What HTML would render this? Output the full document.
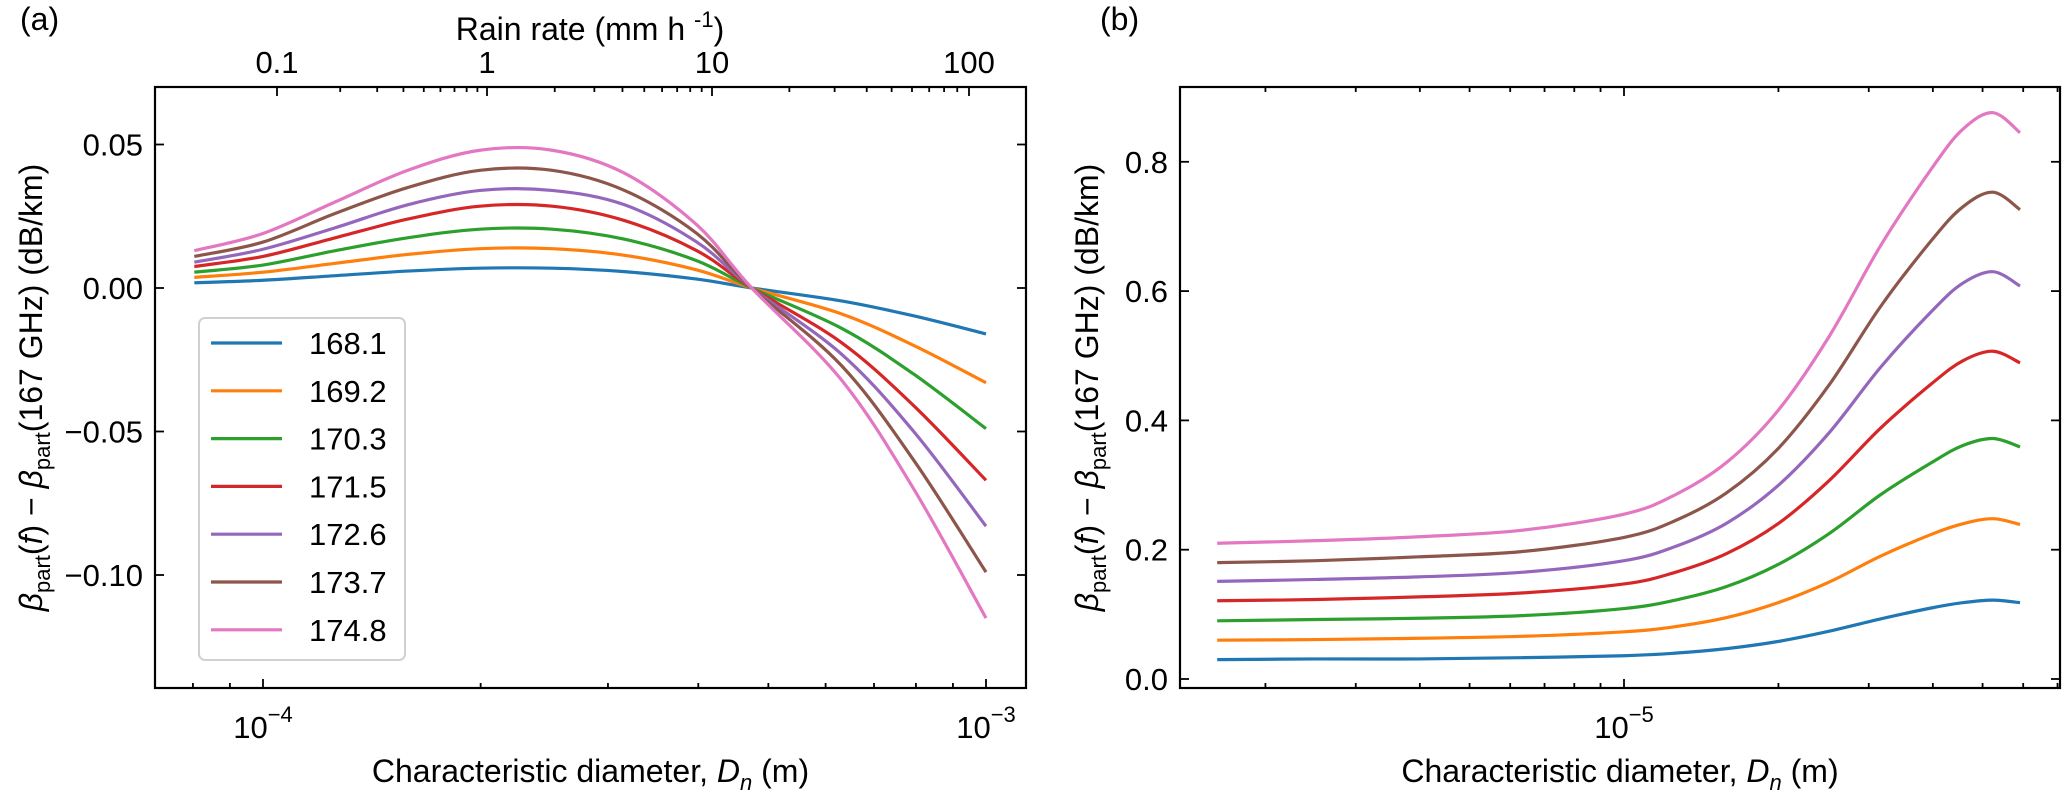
<!DOCTYPE html>
<html><head><meta charset="utf-8"><style>
html,body{margin:0;padding:0;background:#fff;}
svg{display:block;font-family:"Liberation Sans",Arial,sans-serif;}
</style></head><body>
<svg id="fig" width="2067" height="793" viewBox="0 0 2067 793" xmlns="http://www.w3.org/2000/svg"></svg>
<script>
// ---------- data ----------
const seriesLabels = ["168.1","169.2","170.3","171.5","172.6","173.7","174.8"];
const seriesColors = ["#1f77b4","#ff7f0e","#2ca02c","#d62728","#9467bd","#8c564b","#e377c2"];
// panel (a): log10 of characteristic diameter (m)
const aLogD = [-4.095,-4.0,-3.9,-3.8,-3.7,-3.6,-3.5,-3.4,-3.324,-3.2,-3.1,-3.0];
const aBlue   = [0.0018,0.0027,0.0043,0.0059,0.0069,0.0069,0.0057,0.0031,0,-0.0045,-0.0097,-0.016];
const aOrange = [0.0037,0.0055,0.0086,0.0117,0.0137,0.0137,0.0114,0.0063,0,-0.009,-0.020,-0.033];
const aGreen  = [0.0055,0.008,0.013,0.0175,0.0205,0.0205,0.017,0.0095,0,-0.014,-0.030,-0.049];
const aRed    = [0.0075,0.011,0.0175,0.024,0.0285,0.0285,0.0235,0.013,0,-0.019,-0.041,-0.067];
const aPurple = [0.009,0.0135,0.021,0.029,0.034,0.034,0.029,0.016,0,-0.023,-0.050,-0.083];
const aBrown  = [0.011,0.016,0.026,0.035,0.041,0.041,0.034,0.019,0,-0.027,-0.060,-0.099];
const aPink   = [0.013,0.019,0.030,0.041,0.048,0.048,0.040,0.022,0,-0.032,-0.070,-0.115];
const aYTicks = [0.05,0.00,-0.05,-0.10];
const aYTickLabels = ["0.05","0.00","\u22120.05","\u22120.10"];
const rainTicks = [0.1,1,10,100];
const rainTickLabels = ["0.1","1","10","100"];
// panel (b)
const bLogD = [-5.793,-5.6,-5.4,-5.2,-5.0,-4.9,-4.8,-4.7,-4.6,-4.5,-4.4,-4.34,-4.281,-4.228];
const bBlue   = [0.030,0.031,0.031,0.033,0.036,0.040,0.047,0.058,0.074,0.093,0.110,0.118,0.122,0.118];
const bOrange = [0.060,0.061,0.063,0.066,0.073,0.081,0.095,0.118,0.150,0.190,0.224,0.240,0.248,0.239];
const bGreen  = [0.090,0.092,0.094,0.098,0.109,0.122,0.143,0.177,0.225,0.285,0.335,0.361,0.372,0.359];
const bRed    = [0.121,0.123,0.127,0.133,0.147,0.165,0.194,0.240,0.307,0.388,0.457,0.492,0.507,0.489];
const bPurple = [0.151,0.154,0.158,0.165,0.183,0.205,0.241,0.299,0.381,0.482,0.569,0.612,0.630,0.608];
const bBrown  = [0.180,0.183,0.189,0.197,0.219,0.245,0.288,0.356,0.455,0.576,0.679,0.730,0.753,0.726];
const bPink   = [0.210,0.214,0.220,0.230,0.255,0.285,0.335,0.415,0.530,0.670,0.790,0.850,0.876,0.845];
const bYTicks = [0.0,0.2,0.4,0.6,0.8];
const bYTickLabels = ["0.0","0.2","0.4","0.6","0.8"];

const aSeries = [aBlue,aOrange,aGreen,aRed,aPurple,aBrown,aPink];
const bSeries = [bBlue,bOrange,bGreen,bRed,bPurple,bBrown,bPink];

// ---------- layout / axes ----------
const NS="http://www.w3.org/2000/svg";
const svg=document.getElementById('fig');
function el(tag,attrs,parent){const e=document.createElementNS(NS,tag);for(const k in attrs)e.setAttribute(k,attrs[k]);(parent||svg).appendChild(e);return e;}

const A={x0:155,x1:1026,y0:87,y1:688};
const B={x0:1180,x1:2060,y0:87,y1:688};
const axX=l=>263+(l+4)*723;
const axY=v=>288-v*2870;
const bxX=l=>1624+(l+5)*513;
const bxY=v=>679-v*646.5;
const rainAnchorPx=[277,487,712,969];
function rainX(r){const l=Math.log10(r)+1;const i=Math.min(2,Math.max(0,Math.floor(l)));return rainAnchorPx[i]+(l-i)*(rainAnchorPx[i+1]-rainAnchorPx[i]);}

function smoothPath(pts){
  let d=`M${pts[0][0].toFixed(2)},${pts[0][1].toFixed(2)}`;
  for(let i=0;i<pts.length-1;i++){
    const p0=pts[Math.max(0,i-1)],p1=pts[i],p2=pts[i+1],p3=pts[Math.min(pts.length-1,i+2)];
    const c1=[p1[0]+(p2[0]-p0[0])/6,p1[1]+(p2[1]-p0[1])/6];
    const c2=[p2[0]-(p3[0]-p1[0])/6,p2[1]-(p3[1]-p1[1])/6];
    d+=` C${c1[0].toFixed(2)},${c1[1].toFixed(2)} ${c2[0].toFixed(2)},${c2[1].toFixed(2)} ${p2[0].toFixed(2)},${p2[1].toFixed(2)}`;
  }
  return d;
}
function tick(g,x1,y1,x2,y2){return el('line',{x1,y1,x2,y2,stroke:'#000','stroke-width':1.8},g);}

// ---------- panel (a) ----------
const ga=el('g',{});


const clipA=el('clipPath',{id:'ca'});el('rect',{x:A.x0,y:A.y0,width:A.x1-A.x0,height:A.y1-A.y0},clipA);
const la=el('g',{'clip-path':'url(#ca)'},ga);
aSeries.forEach((s,i)=>{
  const p=el('path',{d:smoothPath(s.map((v,j)=>[axX(aLogD[j]),axY(v)])),fill:'none',stroke:seriesColors[i],'stroke-width':3.2},la);
  
  
});
for(let e=-5;e<=-3;e++){for(let m=1;m<10;m++){const l=e+Math.log10(m);const x=axX(l);if(x<A.x0+1||x>A.x1-1)continue;const len=m===1?9:5;tick(ga,x,A.y1,x,A.y1-len);}}
[-4,-3].forEach(e=>{
  const t=el('text',{x:axX(e),y:738,'font-size':31,'text-anchor':'middle'},ga);
  
  
  t.innerHTML=`10<tspan dy="-16" font-size="22">\u2212${-e}</tspan>`;
});
for(let d=0;d<3;d++){for(let m=1;m<10;m++){const r=Math.pow(10,d-1)*m;const x=rainX(r);if(x<A.x0+1||x>A.x1-1)continue;tick(ga,x,A.y0,x,A.y0+(m===1?9:5));}}
{const x=rainX(100);if(x<A.x1)tick(ga,x,A.y0,x,A.y0+9);}
rainTicks.forEach((r,i)=>{
  const t=el('text',{x:rainX(r),y:73,'font-size':31,'text-anchor':'middle'},ga);
  
  
  t.textContent=rainTickLabels[i];
});
{const t=el('text',{x:590,y:40,'font-size':32,'text-anchor':'middle'},ga);
 
 
 t.innerHTML='Rain rate (mm h <tspan dy="-13" font-size="22">-1</tspan><tspan dy="13">)</tspan>';}
aYTicks.forEach((v,i)=>{
  const y=axY(v);tick(ga,A.x0,y,A.x0+9,y);tick(ga,A.x1,y,A.x1-9,y);
  const t=el('text',{x:A.x0-12,y:y+11,'font-size':31,'text-anchor':'end'},ga);
  
  
  t.textContent=aYTickLabels[i];
});
el('rect',{x:A.x0,y:A.y0,width:A.x1-A.x0,height:A.y1-A.y0,fill:'none',stroke:'#000','stroke-width':2.2},ga);
const lg=el('g',{},ga);


el('rect',{x:199,y:318,width:206,height:342,rx:6,fill:'#fff','fill-opacity':0.8,stroke:'#d0d0d0','stroke-width':2},lg);
seriesLabels.forEach((s,i)=>{
  const y=343+i*47.8;
  const g=el('g',{},lg);
  
  
  el('line',{x1:211,y1:y,x2:282,y2:y,stroke:seriesColors[i],'stroke-width':3.2},g);
  const t=el('text',{x:309,y:y+11,'font-size':31},g);t.textContent=s;
});
{const t=el('text',{x:20,y:30,'font-size':32},ga);t.textContent='(a)';
 }

// ---------- panel (b) ----------
const gb=el('g',{});


bSeries.forEach((s,i)=>{
  const p=el('path',{d:smoothPath(s.map((v,j)=>[bxX(bLogD[j]),bxY(v)])),fill:'none',stroke:seriesColors[i],'stroke-width':3.2},gb);
  
  
});
for(let e=-6;e<=-4;e++){for(let m=1;m<10;m++){const x=bxX(e+Math.log10(m));if(x<B.x0+1||x>B.x1-1)continue;const len=m===1?9:5;tick(gb,x,B.y1,x,B.y1-len);tick(gb,x,B.y0,x,B.y0+len);}}
{const t=el('text',{x:bxX(-5),y:738,'font-size':31,'text-anchor':'middle'},gb);
 
 t.innerHTML='10<tspan dy="-16" font-size="22">\u22125</tspan>';}
bYTicks.forEach((v,i)=>{
  const y=bxY(v);tick(gb,B.x0,y,B.x0+9,y);tick(gb,B.x1,y,B.x1-9,y);
  const t=el('text',{x:B.x0-12,y:y+11,'font-size':31,'text-anchor':'end'},gb);
  
  
  t.textContent=bYTickLabels[i];
});
el('rect',{x:B.x0,y:B.y0,width:B.x1-B.x0,height:B.y1-B.y0,fill:'none',stroke:'#000','stroke-width':2.2},gb);
{const t=el('text',{x:1100,y:30,'font-size':32},gb);t.textContent='(b)';
 }

function xTitle(cx,name){const t=el('text',{x:cx,y:782,'font-size':32,'text-anchor':'middle'});
  
  t.innerHTML='Characteristic diameter, <tspan font-style="italic">D</tspan><tspan font-style="italic" font-size="22" dy="8">n</tspan><tspan dy="-8"> (m)</tspan>';}
xTitle((A.x0+A.x1)/2,'x-axis-title-a');xTitle((B.x0+B.x1)/2,'x-axis-title-b');
function yTitle(cx,cy,name){const t=el('text',{x:0,y:0,'font-size':32,'text-anchor':'middle',transform:`translate(${cx},${cy}) rotate(-90)`});
  
  t.innerHTML='<tspan font-style="italic">\u03b2</tspan><tspan font-size="22" dy="8">part</tspan><tspan dy="-8">(</tspan><tspan font-style="italic">f</tspan>) \u2212 <tspan font-style="italic">\u03b2</tspan><tspan font-size="22" dy="8">part</tspan><tspan dy="-8">(167 GHz)  (dB/km)</tspan>';}
yTitle(42,(A.y0+A.y1)/2,'y-axis-title-a');yTitle(1098,(B.y0+B.y1)/2,'y-axis-title-b');
</script>
</body></html>
